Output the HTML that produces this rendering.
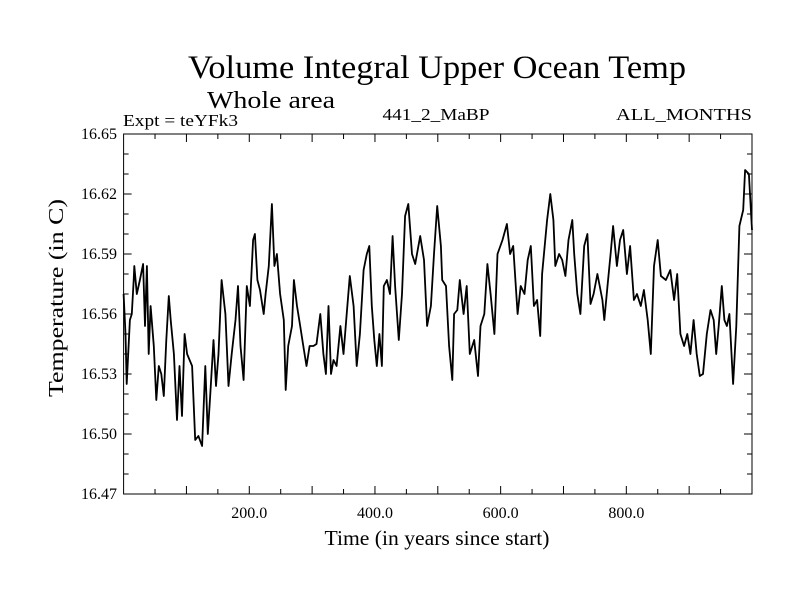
<!DOCTYPE html>
<html><head><meta charset="utf-8">
<style>
body{margin:0;background:#fff;}
svg text{font-family:"Liberation Serif",serif;fill:#000;}
</style></head>
<body>
<svg id="chart" width="800" height="600" xmlns="http://www.w3.org/2000/svg">
<rect width="800" height="600" fill="#fff"/>
<text x="437" y="78" font-size="33" text-anchor="middle" textLength="498" lengthAdjust="spacingAndGlyphs">Volume Integral Upper Ocean Temp</text>
<text x="207" y="108" font-size="24" textLength="128" lengthAdjust="spacingAndGlyphs">Whole area</text>
<text x="123" y="126" font-size="17" textLength="115" lengthAdjust="spacingAndGlyphs">Expt = teYFk3</text>
<text x="436" y="120" font-size="17" text-anchor="middle" textLength="107" lengthAdjust="spacingAndGlyphs">441_2_MaBP</text>
<text x="752" y="120" font-size="17" text-anchor="end" textLength="136" lengthAdjust="spacingAndGlyphs">ALL_MONTHS</text>
<text x="0" y="0" font-size="21" text-anchor="middle" transform="translate(63,298) rotate(-90)" textLength="198" lengthAdjust="spacingAndGlyphs">Temperature (in C)</text>
<text x="437" y="545" font-size="21" text-anchor="middle" textLength="225" lengthAdjust="spacingAndGlyphs">Time (in years since start)</text>
<g id="axes"></g>
<path id="series" fill="none" stroke="#000" stroke-width="1.8" stroke-linejoin="round"/>
<rect x="123.6" y="134" width="628.4" height="360" fill="none" stroke="#000" stroke-width="1"/>
</svg>
<script>
const years=[0,3,5,10,13,16,17,21,26,31,34,37,40,43,48,52,56,60,64,68,72,75,80,85,89,93,97,101,105,109,114,119,125,130,134,138,143,147,151,156,162,167,172,178,182,186,191,196,201,206,209,213,217,223,226,231,236,240,244,249,255,258,262,268,271,276,281,286,291,296,302,307,313,318,322,326,330,334,339,345,350,355,360,366,371,376,382,387,391,395,399,403,407,411,414,419,424,428,432,438,443,448,453,459,464,472,478,483,489,494,499,505,507,513,518,523,526,531,535,541,546,551,558,564,568,574,579,584,590,595,603,610,615,620,627,632,638,643,648,653,658,663,666,674,679,684,687,693,698,703,708,714,717,722,727,733,738,743,748,754,762,765,770,775,779,785,790,795,801,806,812,817,823,828,834,839,844,850,855,863,870,876,881,886,892,897,902,907,912,917,922,928,934,939,943,947,952,956,960,964,970,975,980,986,989,995,1000];
const temps=[16.570,16.550,16.525,16.557,16.560,16.577,16.584,16.570,16.577,16.585,16.554,16.584,16.540,16.564,16.544,16.517,16.534,16.530,16.519,16.547,16.569,16.557,16.540,16.507,16.534,16.509,16.550,16.540,16.537,16.534,16.497,16.499,16.494,16.534,16.500,16.520,16.547,16.524,16.540,16.577,16.560,16.524,16.540,16.557,16.574,16.544,16.527,16.574,16.564,16.597,16.600,16.577,16.572,16.560,16.570,16.584,16.615,16.584,16.590,16.570,16.557,16.522,16.544,16.554,16.577,16.564,16.554,16.544,16.534,16.544,16.544,16.545,16.560,16.540,16.530,16.564,16.530,16.537,16.534,16.554,16.540,16.560,16.579,16.564,16.534,16.550,16.582,16.590,16.594,16.564,16.547,16.534,16.550,16.534,16.574,16.577,16.570,16.599,16.574,16.547,16.570,16.609,16.615,16.590,16.585,16.599,16.587,16.554,16.564,16.590,16.614,16.594,16.577,16.574,16.544,16.527,16.560,16.562,16.577,16.560,16.574,16.540,16.547,16.529,16.554,16.560,16.585,16.570,16.550,16.590,16.597,16.605,16.590,16.594,16.560,16.574,16.570,16.587,16.594,16.564,16.567,16.549,16.580,16.607,16.620,16.607,16.584,16.590,16.587,16.579,16.597,16.607,16.590,16.570,16.560,16.594,16.600,16.565,16.570,16.580,16.567,16.557,16.574,16.590,16.604,16.584,16.597,16.602,16.580,16.594,16.567,16.570,16.564,16.572,16.557,16.540,16.584,16.597,16.579,16.577,16.582,16.567,16.580,16.550,16.544,16.550,16.540,16.557,16.540,16.529,16.530,16.550,16.562,16.557,16.540,16.554,16.574,16.557,16.554,16.560,16.525,16.554,16.604,16.612,16.632,16.630,16.602];
const xTicks=[200,400,600,800];
const yTicks=[16.47,16.50,16.53,16.56,16.59,16.62,16.65];
const L=123.6,R=752,T=134,B=494,X0=0,X1=1000,Y0=16.47,Y1=16.65;
const sx=v=>L+(v-X0)/(X1-X0)*(R-L);
const sy=v=>B-(v-Y0)/(Y1-Y0)*(B-T);
const NS="http://www.w3.org/2000/svg";
const axes=document.getElementById('axes');
function ln(x1,y1,x2,y2,name){const l=document.createElementNS(NS,'line');
l.setAttribute('x1',x1);l.setAttribute('y1',y1);l.setAttribute('x2',x2);l.setAttribute('y2',y2);
l.setAttribute('stroke','#000');l.setAttribute('stroke-width','1');


axes.appendChild(l);}
function tx(x,y,s,anchor,name){const t=document.createElementNS(NS,'text');
t.setAttribute('x',x);t.setAttribute('y',y);t.setAttribute('font-size','16');t.setAttribute('text-anchor',anchor);t.textContent=s;


axes.appendChild(t);}
for(let v=50;v<X1;v+=50){const x=sx(v);const major=v%100===0;const len=major?8:5;
ln(x,B,x,B-len,'x-tick');ln(x,T,x,T+len,'x-tick-top');}
xTicks.forEach(v=>tx(sx(v),518,v.toFixed(1),'middle','x-tick-label'));
for(let i=1;i<18;i++){const v=Y0+i*0.01;const y=sy(v);const major=i%3===0;const len=major?8:5;
ln(L,y,L+len,y,'y-tick');ln(R,y,R-len,y,'y-tick-right');}
yTicks.forEach(v=>tx(117,sy(v)+5,v.toFixed(2),'end','y-tick-label'));
let d='';years.forEach((y,i)=>{d+=(i?'L':'M')+sx(y).toFixed(1)+','+sy(temps[i]).toFixed(1);});
document.getElementById('series').setAttribute('d',d);
</script>
</body></html>
